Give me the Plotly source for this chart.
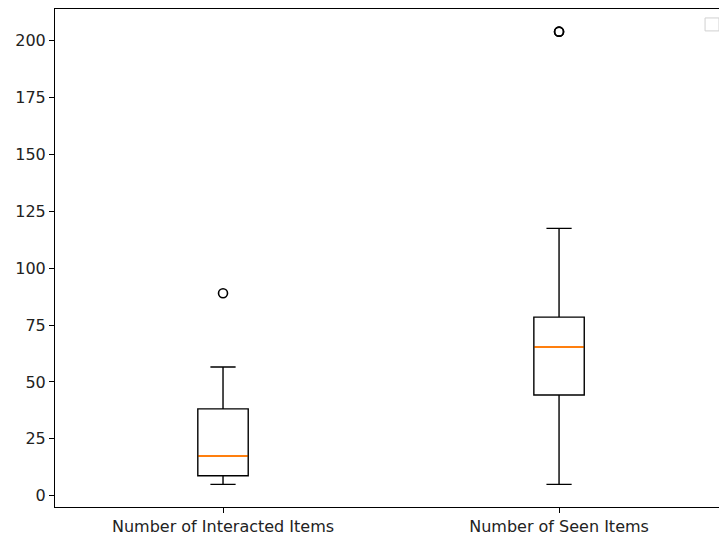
import plotly.graph_objects as go

categories = ["Number of Interacted Items", "Number of Seen Items"]
positions = [1, 2]
q1 = [8.8, 44.3]
median = [17.5, 65.4]
q3 = [38.2, 78.5]
lower_whisker = [5, 5]
upper_whisker = [56.6, 117.5]
outliers = [[89], [204, 204]]
y_ticks = [0, 25, 50, 75, 100, 125, 150, 175, 200]

box_width = 0.15
line_w = 1.4

fig = go.Figure()
for i, pos in enumerate(positions):
    fig.add_trace(go.Box(
        x=[pos], q1=[q1[i]], median=[median[i]], q3=[q3[i]],
        lowerfence=[lower_whisker[i]], upperfence=[upper_whisker[i]],
        width=box_width, whiskerwidth=0.5, boxpoints=False,
        fillcolor="rgba(0,0,0,0)", line=dict(color="black", width=line_w),
        showlegend=False, hoverinfo="skip",
    ))
    fig.add_trace(go.Scatter(
        x=[pos - box_width / 2 + 0.002, pos + box_width / 2 - 0.002],
        y=[median[i], median[i]],
        mode="lines", line=dict(color="#ff7f0e", width=2.1),
        showlegend=False, hoverinfo="skip",
    ))
    fig.add_trace(go.Scatter(
        x=[pos] * len(outliers[i]), y=outliers[i], mode="markers",
        marker=dict(symbol="circle-open", size=9, color="black",
                    line=dict(color="black", width=1.6)),
        showlegend=False, hoverinfo="skip",
    ))

fig.update_layout(
    width=719, height=540,
    margin=dict(l=55, r=0, t=9, b=33),
    paper_bgcolor="white", plot_bgcolor="white",
    font=dict(family="DejaVu Sans", size=16, color="#222222"),
    xaxis=dict(
        range=[0.5, 2.476], tickvals=positions, ticktext=categories,
        showgrid=False, zeroline=False, showline=True, linecolor="black",
        linewidth=1, mirror=True, ticks="outside", ticklen=5, tickcolor="black",
        tickfont=dict(size=16),
    ),
    yaxis=dict(
        range=[-4.95, 213.95], tickvals=y_ticks,
        showgrid=False, zeroline=False, showline=True, linecolor="black",
        linewidth=1, mirror=False, ticks="outside", ticklen=5, tickcolor="black",
        tickfont=dict(size=16),
    ),
    shapes=[dict(
        type="path", xref="paper", yref="paper",
        path="M 0.979 0.956 L 1.0 0.956 L 1.0 0.982 L 0.979 0.982 Z",
        line=dict(color="#d0d0d0", width=1), fillcolor="rgba(255,255,255,0.8)",
    )],
)

fig.write_html("out.html")
